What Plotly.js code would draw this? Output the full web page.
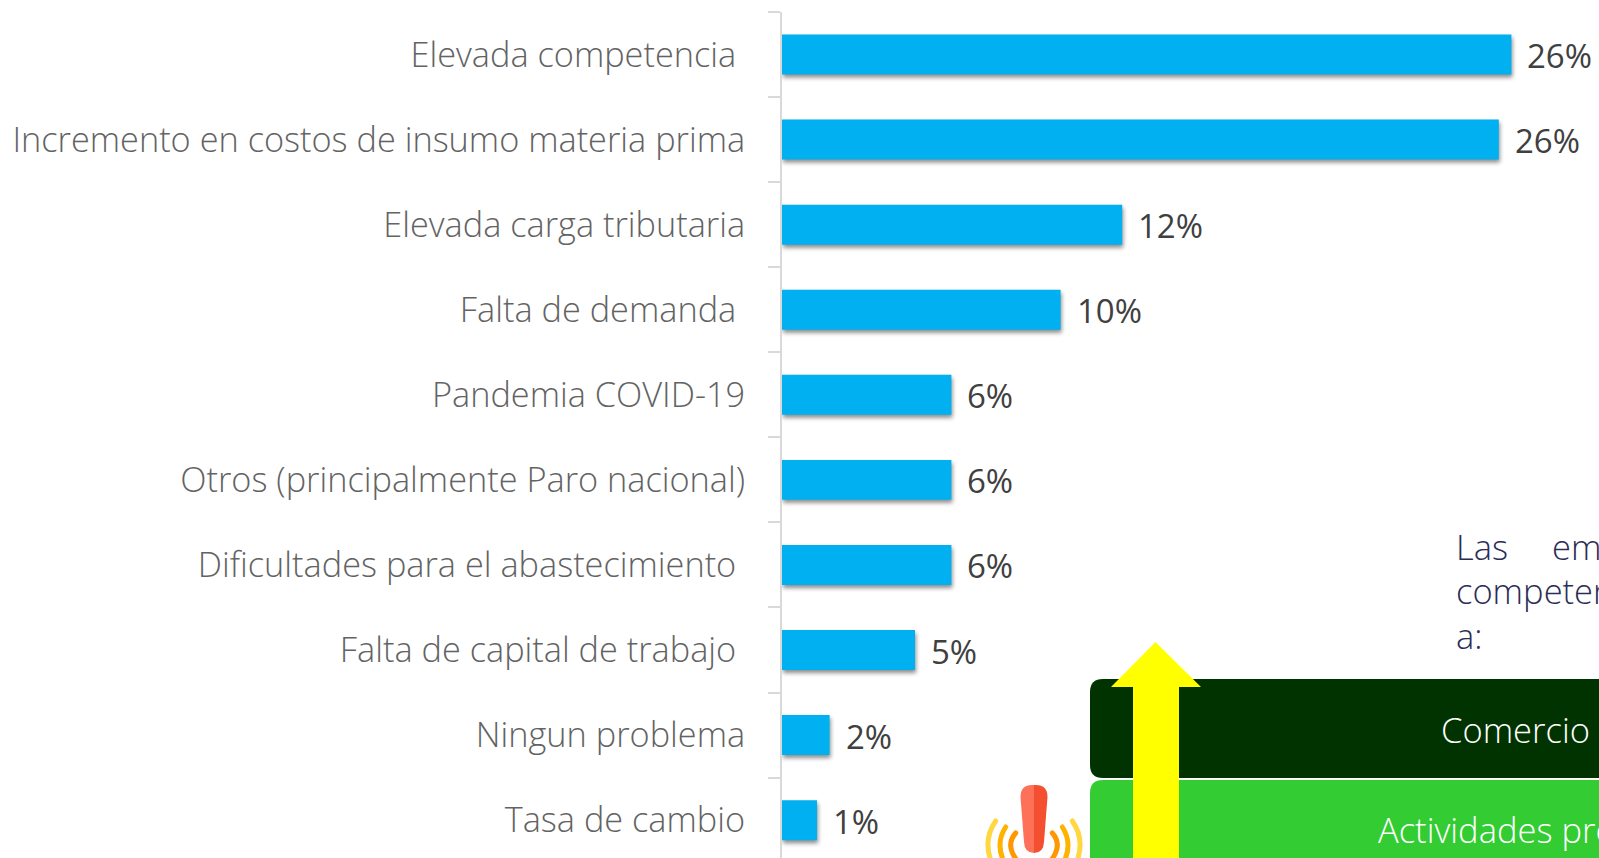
<!DOCTYPE html>
<html><head><meta charset="utf-8">
<script src="https://cdn.plot.ly/plotly-3.0.1.min.js"></script>
<style>
html,body{margin:0;padding:0;background:#fff;overflow:hidden;width:1599px;height:858px}
.trace.bars .point path{filter:drop-shadow(1px 3px 2px rgba(0,0,0,.45))}
.shapelayer path{stroke-linecap:round}
</style></head><body><div id="c" style="width:1599px;height:858px"></div>
<script>
const categories=["Elevada competencia\u00a0","Incremento en costos de insumo materia prima","Elevada carga tributaria","Falta de demanda\u00a0","Pandemia COVID-19","Otros (principalmente Paro nacional)","Dificultades para el abastecimiento\u00a0","Falta de capital de trabajo\u00a0","Ningun problema","Tasa de cambio"];
const values=[26.05,25.6,12.15,9.95,6.05,6.05,6.05,4.75,1.7,1.25];
const valueLabels=["26%","26%","12%","10%","6%","6%","6%","5%","2%","1%"];
const W=1599,H=858;
const px=x=>x/W, py=y=>1-y/H, P=(x,y)=>px(x)+","+py(y);
const F="'Open Sans'";
function rr(x0,y0,x1,y1,r,fill){return {type:"path",xref:"paper",yref:"paper",layer:"above",fillcolor:fill,line:{width:0},
 path:`M${P(x0+r,y0)} L${P(x1,y0)} L${P(x1,y1)} L${P(x0+r,y1)} Q${P(x0,y1)} ${P(x0,y1-r)} L${P(x0,y0+r)} Q${P(x0,y0)} ${P(x0+r,y0)} Z`};}
function poly(pts,fill){return {type:"path",xref:"paper",yref:"paper",layer:"above",fillcolor:fill,line:{width:0},
 path:"M"+pts.map(p=>P(p[0],p[1])).join(" L")+" Z"};}
function arc(x0,y0,cx,cy,x1,y1,col){return {type:"path",xref:"paper",yref:"paper",layer:"above",line:{color:col,width:5},
 path:`M${P(x0,y0)} Q${P(cx,cy)} ${P(x1,y1)}`};}
const C=1034;
function arcs(d0,y0,dc,yc,d1,y1,col){return [arc(C-d0,y0,C-dc,yc,C-d1,y1,col),arc(C+d0,y0,C+dc,yc,C+d1,y1,col)];}
const shapes=[
 rr(1090,679,1620,778,13,"#003300"),
 rr(1090,780,1620,870,13,"#33CC33"),
 poly([[1155.5,642],[1201,687],[1179,687],[1179,860],[1133,860],[1133,687],[1111,687]],"#FFFF00"),
 ...arcs(38.3,821,51.7,840,42,864,"#FFD740"),...arcs(28.3,827,38.8,843,30,862,"#FFB300"),...arcs(18.3,833,28.8,845,17.3,860,"#FF9800"),
 {type:"path",xref:"paper",yref:"paper",layer:"above",fillcolor:"#FF7058",line:{width:0},
  path:`M${P(1034,785)} L${P(1032,785)} Q${P(1020.5,785)} ${P(1020.5,797)} L${P(1024,842)} Q${P(1024.5,853)} ${P(1034,853)} Z`},
 {type:"path",xref:"paper",yref:"paper",layer:"above",fillcolor:"#F4502F",line:{width:0},
  path:`M${P(1034,785)} L${P(1036,785)} Q${P(1047.5,785)} ${P(1047.5,797)} L${P(1044,842)} Q${P(1043.5,853)} ${P(1034,853)} Z`}
];
function note(t,x,y,col,size){return {text:t,xref:"paper",yref:"paper",x:px(x),y:py(y),xanchor:"left",yanchor:"middle",showarrow:false,borderpad:0,
 font:{family:F,size:size||34.5,color:col,weight:300}};}
const annotations=[
 ...categories.map((c,i)=>({text:valueLabels[i],x:values[i],y:c,xref:"x",yref:"y",xanchor:"left",yanchor:"middle",showarrow:false,xshift:15,yshift:-1,borderpad:0,
   font:{family:F,size:33,color:"#404040",weight:400}})),
 note("Las",1455,546,"#2B2D55"),note("empresas",1551,546,"#2B2D55"),
 note("competencia",1455,590,"#2B2D55"),note("a:",1455,635,"#2B2D55"),
 note("Comercio al",1440,729,"#FFFFFF"),note("Actividades profesionales",1377,829,"#FFFFFF")
];
const layout={width:W,height:H,margin:{l:0,r:0,t:0,b:0},paper_bgcolor:"#fff",plot_bgcolor:"#fff",showlegend:false,bargap:0.53,
 xaxis:{domain:[782/W,1],range:[0,817/28],visible:false,fixedrange:true},
 yaxis:{domain:[0,846/H],type:"category",categoryorder:"array",categoryarray:categories,range:[9.445,-0.5],tickson:"boundaries",
  ticks:"outside",ticklen:12,tickwidth:2,tickcolor:"#D9D9D9",showline:true,linecolor:"#D9D9D9",linewidth:2,showgrid:false,zeroline:false,
  ticklabelstandoff:28,tickfont:{family:F,size:34.3,color:"#636363",weight:300},automargin:false,fixedrange:true},
 shapes,annotations};
Plotly.newPlot("c",[{type:"bar",orientation:"h",y:categories,x:values,marker:{color:"#00B0F0",line:{width:0}},hoverinfo:"skip"}],layout,{displayModeBar:false,staticPlot:true});
</script></body></html>
